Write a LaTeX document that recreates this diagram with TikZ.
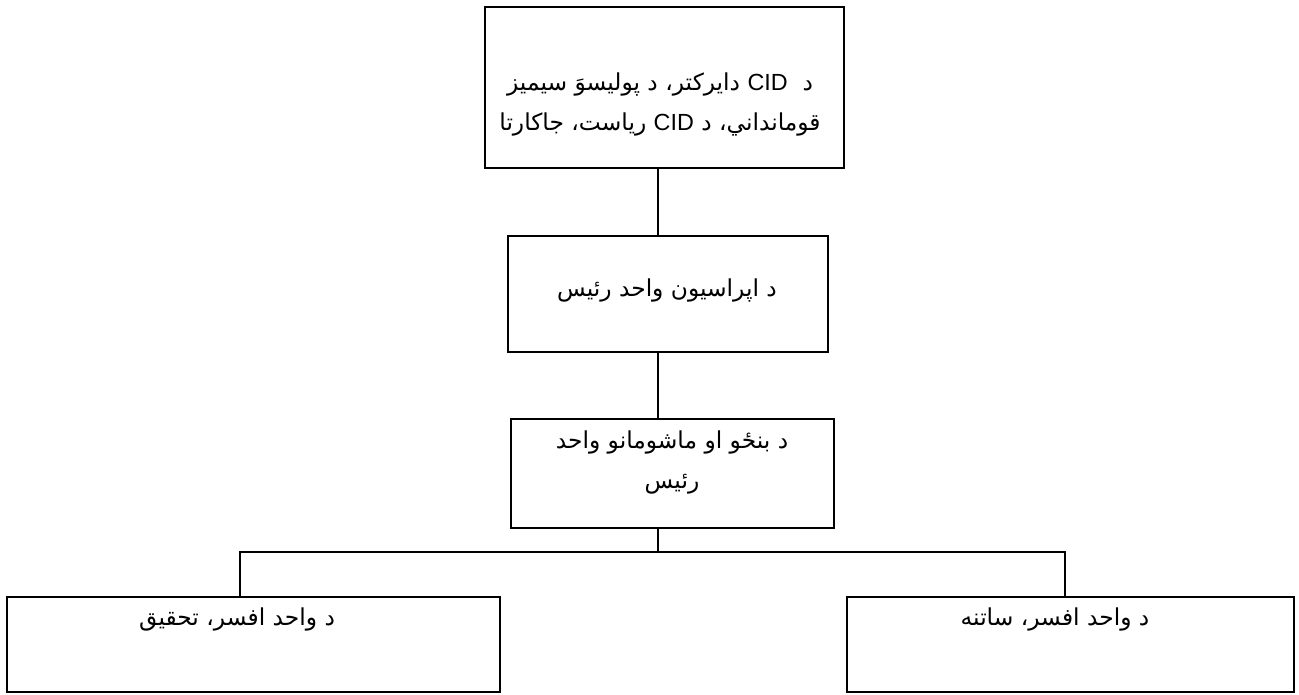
\documentclass[tikz,border=0pt]{standalone}
\usepackage{fontspec}
\setmainfont{Liberation Sans}
\newfontfamily\arabicfont[Script=Arabic]{DejaVu Sans}
\newfontfamily\latinfont{Liberation Sans}
\TeXXeTstate=1
\begin{document}
\begin{tikzpicture}[x=0.75pt,y=-0.75pt,
  box/.style={draw=black,line width=2.1pt,rectangle,inner sep=0pt},
  conn/.style={draw=black,line width=1.4pt},
  lbl/.style={inner sep=0pt,align=center,font=\arabicfont\fontsize{17.5}{30}\selectfont}]
\useasboundingbox[fill=white] (0,0) rectangle (1299,694);
% boxes
\node[box,minimum width=269.25pt,minimum height=120.75pt] (b1) at (664.5,87.5) {};
\node[box,minimum width=240pt,minimum height=87pt] (b2) at (668,294) {};
\node[box,minimum width=242.25pt,minimum height=81.75pt] (b3) at (672.5,473.5) {};
\node[box,minimum width=369.75pt,minimum height=71.25pt] (b4) at (253.5,644.5) {};
\node[box,minimum width=335.25pt,minimum height=71.25pt] (b5) at (1070.5,644.5) {};
% texts
\node[lbl] (t1) at (660,104) {\beginR د\ \ {\latinfont CID} دايركتر، د پوليسوَ سيميز\endR\\\beginR قومانداني، د {\latinfont CID} رياست، جاكارتا\endR};
\node[lbl] (t2) at (667,290) {\beginR د اپراسيون واحد رئيس\endR};
\node[lbl] (t3) at (672,462) {\beginR د بنځو او ماشومانو واحد\endR\\\beginR رئيس\endR};
\node[lbl] (t4) at (237,619) {\beginR د واحد افسر، تحقيق\endR};
\node[lbl] (t5) at (1055,619) {\beginR د واحد افسر، ساتنه\endR};
% connectors
\coordinate (c1) at (658,552);
\coordinate (cl) at (240,552);
\coordinate (cr) at (1065,552);
\draw[conn] (b1.south -| c1) -- (b2.north -| c1);
\draw[conn] (b2.south -| c1) -- (b3.north -| c1);
\draw[conn] (b3.south -| c1) -- (c1);
\draw[conn] (b4.north -| cl) -- (cl) -- (cr) -- (b5.north -| cr);
\end{tikzpicture}
\end{document}
